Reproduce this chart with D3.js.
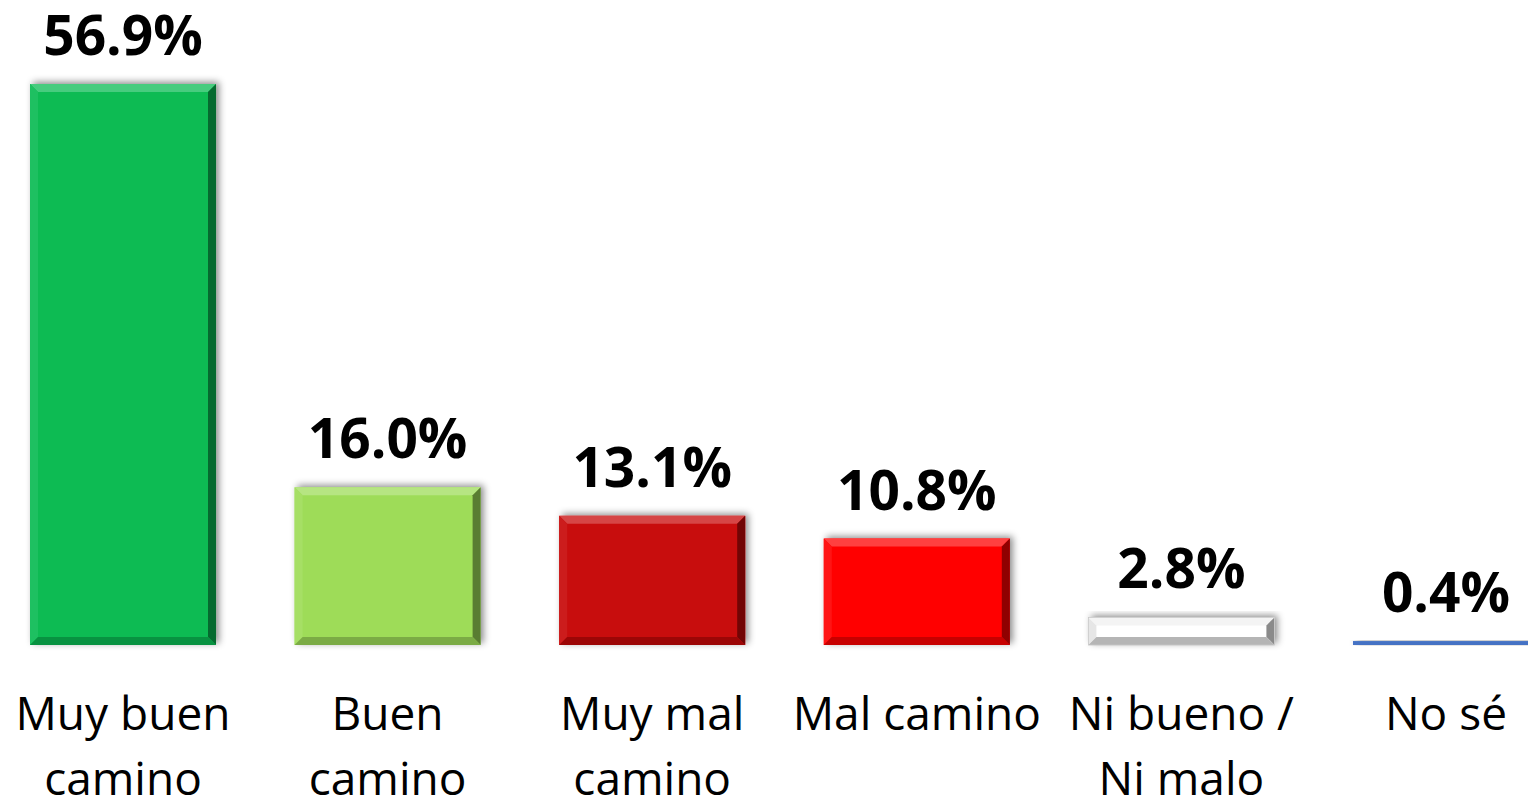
<!DOCTYPE html>
<html>
<head>
<meta charset="utf-8">
<script src="https://cdn.jsdelivr.net/npm/d3@7"></script>
<style>
  html, body { margin: 0; padding: 0; background: #fff; overflow: hidden; }
  svg { display: block; font-family: "Open Sans", sans-serif; }
</style>
</head>
<body>
<div id="okvir"></div>
<script>
const kategorije = ["Muy buen camino", "Buen camino", "Muy mal camino", "Mal camino", "Ni bueno / Ni malo", "No sé"];
const vrijednosti = [56.9, 16.0, 13.1, 10.8, 2.8, 0.4];
const boje = ["#0ABB53", "#9EDC58", "#C80808", "#FF0000", "#FFFFFF", "#4472C4"];

function crtaj() {
  const sirina = 1528, visina = 798;
  const baza = 645;

  const x = d3.scaleBand()
    .domain(kategorije)
    .range([30, 1539])
    .paddingInner(0.297)
    .paddingOuter(0);

  const y = d3.scaleLinear()
    .domain([0, 56.9])
    .range([baza, 84]);

  const svg = d3.select("#okvir").append("svg")
    .attr("width", sirina)
    .attr("height", visina);

  const defs = svg.append("defs");
  defs.append("filter")
    .attr("id", "sjena")
    .attr("x", "-20%").attr("y", "-20%")
    .attr("width", "140%").attr("height", "140%")
    .append("feDropShadow")
    .attr("dx", 3).attr("dy", -2)
    .attr("stdDeviation", 3.5)
    .attr("flood-color", "#000")
    .attr("flood-opacity", 0.45);

  const podaci = kategorije.map((k, i) => ({ k, v: vrijednosti[i], c: boje[i] }));

  const stupci = svg.selectAll(".stupac")
    .data(podaci)
    .enter().append("g")
      .attr("class", "stupac");

  stupci.each(function(d) {
    const g = d3.select(this);
    const x0 = x(d.k), x1 = x0 + x.bandwidth();
    const y0 = y(d.v), y1 = baza;
    const h = y1 - y0;
    const b = Math.min(8, h / 2);
    const osnovna = d3.color(d.c);
    const bijela = d.c === "#FFFFFF";

    g.append("rect")
      .attr("x", x0).attr("y", y0)
      .attr("width", x1 - x0).attr("height", h)
      .attr("fill", d.c)
      .attr("filter", "url(#sjena)");

    // preniski stupac (No sé) ostaje ravna plava crta
    if (h < 8) return;

    const gore = bijela ? "#f4f4f4" : d3.interpolateRgb(d.c, "#fff")(0.25);
    const lijevo = bijela ? "#e6e6e6" : d3.interpolateRgb(d.c, "#fff")(0.08);
    const desno = bijela ? "#8a8a8a" : osnovna.darker(1.6);
    const dolje = bijela ? "#b5b5b5" : osnovna.darker(0.7);

    const poly = (pts, fill) => g.append("polygon")
      .attr("points", pts.map(p => p.join(",")).join(" "))
      .attr("fill", fill);

    poly([[x0, y0], [x1, y0], [x1 - b, y0 + b], [x0 + b, y0 + b]], gore);
    poly([[x0, y0], [x0 + b, y0 + b], [x0 + b, y1 - b], [x0, y1]], lijevo);
    poly([[x1, y0], [x1, y1], [x1 - b, y1 - b], [x1 - b, y0 + b]], desno);
    poly([[x0, y1], [x0 + b, y1 - b], [x1 - b, y1 - b], [x1, y1]], dolje);

    if (bijela) {
      g.append("rect")
        .attr("x", x0).attr("y", y0)
        .attr("width", x1 - x0).attr("height", h)
        .attr("fill", "none")
        .attr("stroke", "#c8c8c8")
        .attr("stroke-width", 0.8);
    }
  });

  svg.selectAll(".vrijednost")
    .data(podaci)
    .enter().append("text")
      .attr("class", "vrijednost")
      .attr("x", d => x(d.k) + x.bandwidth() / 2)
      .attr("y", d => y(d.v) - 29)
      .attr("text-anchor", "middle")
      .attr("font-size", 55)
      .attr("font-weight", 700)
      .attr("fill", "#000")
      .text(d => d.v.toFixed(1) + "%");

  // oznake kategorija s prelamanjem
  const sirinaRetka = x.step();
  const oznake = svg.selectAll(".oznaka")
    .data(podaci)
    .enter().append("text")
      .attr("class", "oznaka")
      .attr("x", d => x(d.k) + x.bandwidth() / 2)
      .attr("y", 730)
      .attr("text-anchor", "middle")
      .attr("font-size", 46)
      .attr("fill", "#000");

  oznake.each(function(d) {
    const t = d3.select(this);
    const rijeci = d.k.split(" ");
    let red = [];
    let redovi = [];
    const tspan = t.append("tspan");
    rijeci.forEach(r => {
      red.push(r);
      tspan.text(red.join(" "));
      if (tspan.node().getComputedTextLength() > sirinaRetka && red.length > 1) {
        red.pop();
        redovi.push(red.join(" "));
        red = [r];
      }
    });
    redovi.push(red.join(" "));
    tspan.remove();
    const cx = x(d.k) + x.bandwidth() / 2;
    redovi.forEach((linija, i) => {
      t.append("tspan")
        .attr("x", cx)
        .attr("dy", i === 0 ? 0 : 65)
        .text(linija);
    });
  });
}

crtaj();
</script>
</body>
</html>
